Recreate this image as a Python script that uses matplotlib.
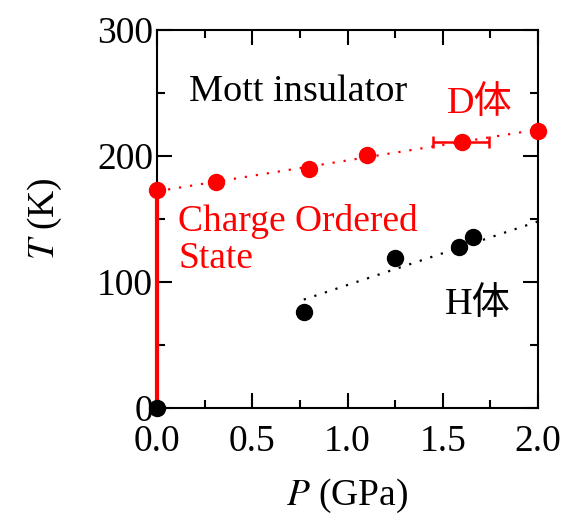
#!/usr/bin/env python3
"""Phase diagram T vs P: D-body and H-body transition temperatures."""
import matplotlib

matplotlib.use("Agg", force=True)
import matplotlib.pyplot as plt
from matplotlib.ticker import MultipleLocator

# D体 (red) transition points
d_p = [0.0, 0.31, 0.80, 1.10, 1.60, 2.0]
d_t = [173, 179, 190, 201, 211, 220]
d_xerr_p = 1.60
d_xerr_t = 211
d_xerr_lo = 0.15
d_xerr_hi = 0.14
d_fit_p = [0.0, 2.0]
d_fit_t = [172, 221]

# H体 (black) transition points
h_p = [0.0, 0.77, 1.25, 1.585, 1.66]
h_t = [0, 76, 119, 128, 136]
h_fit_p = [0.77, 2.0]
h_fit_t = [86, 148]

# Charge ordered boundary at P = 0
co_p = [0.0, 0.0]
co_t = [0, 173]

SERIF = ["Liberation Serif", "Noto Sans CJK JP"]
plt.rcParams["font.family"] = SERIF
plt.rcParams["mathtext.fontset"] = "stix"
FS = 27

fig = plt.figure(figsize=(5.67, 5.17), dpi=100)
ax = fig.add_axes([0.277, 0.211, 0.672, 0.731])

red = "#ff0000"
ax.plot(co_p, co_t, color=red, lw=3, clip_on=False, zorder=3)
ax.plot(d_fit_p, d_fit_t, color=red, lw=1.6, ls=(0, (1, 4)), clip_on=False)
ax.plot(h_fit_p, h_fit_t, color="black", lw=1.6, ls=(0, (1, 4)), clip_on=False)
ax.errorbar([d_xerr_p], [d_xerr_t], xerr=[[d_xerr_lo], [d_xerr_hi]], fmt="none",
            ecolor=red, elinewidth=1.8, capsize=4, capthick=1.8)
ax.plot(d_p, d_t, "o", color=red, ms=11.5, clip_on=False, zorder=4)
ax.plot(h_p, h_t, "o", color="black", ms=11.5, clip_on=False, zorder=5)

TS = 27.5
ax.text(0.17, 251, "Mott insulator", fontsize=TS, color="black", va="center")
ax.text(1.52, 242, "D体", fontsize=TS, color=red, va="center", family=SERIF)
ax.text(0.11, 133, "Charge Ordered\nState", fontsize=TS - 0.5, color=red,
        va="center", linespacing=1.1)
ax.text(1.51, 82, "H体", fontsize=TS, color="black", va="center", family=SERIF)

ax.set_xlim(0, 2.0)
ax.set_ylim(0, 300)
ax.xaxis.set_minor_locator(MultipleLocator(0.25))
ax.yaxis.set_major_locator(MultipleLocator(100))
ax.yaxis.set_minor_locator(MultipleLocator(50))
ax.set_xticks([0, 0.5, 1.0, 1.5, 2.0], ["0.0", "0.5", "1.0", "1.5", "2.0"])
ax.tick_params(which="both", direction="in", top=True, right=True, width=1.5,
               labelsize=FS)
ax.tick_params(which="major", length=11)
ax.tick_params(axis="x", which="major", pad=12)
ax.tick_params(axis="y", which="major", pad=3)
ax.tick_params(which="minor", length=6)
for s in ax.spines.values():
    s.set_linewidth(1.5)

ax.set_xlabel("$P$ (GPa)", fontsize=FS, labelpad=13)
ax.set_ylabel("$T$ (K)", fontsize=FS, labelpad=24)

fig.savefig("out.png", dpi=100)
